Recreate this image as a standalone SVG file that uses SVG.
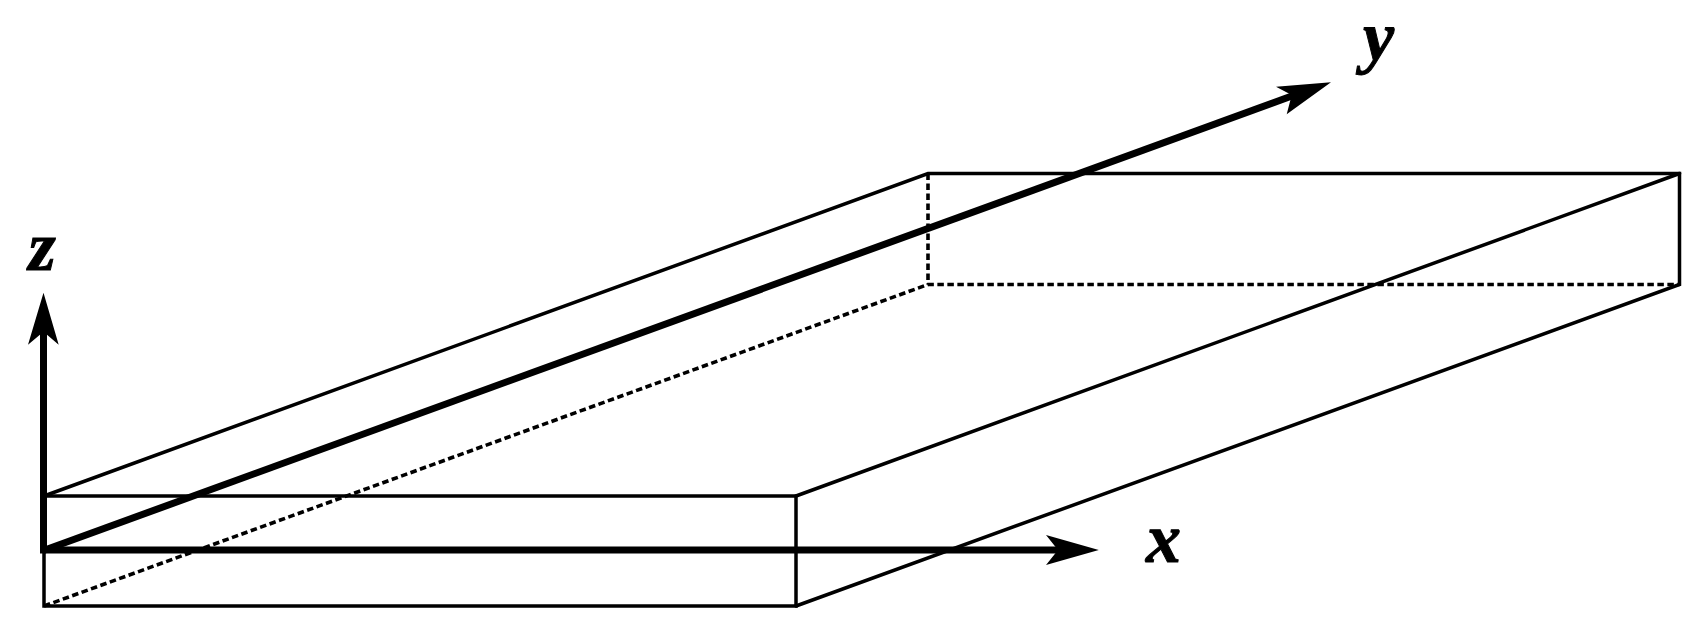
<svg xmlns="http://www.w3.org/2000/svg" width="1707" height="630" viewBox="0 0 1707 630">
<style>
.edge{fill:none;stroke:#000;stroke-width:3.5;stroke-linecap:round}
.hidden{fill:none;stroke:#000;stroke-width:3.6;stroke-dasharray:6.5 3.5}
.axis{fill:none;stroke:#000;stroke-width:7}
.head{fill:#000;stroke:none}
.label{font-family:"Liberation Serif","Times New Roman",serif;font-weight:bold;font-style:italic;font-size:70px;fill:#000;stroke:#000;stroke-width:1}
</style>
<rect width="1707" height="630" fill="#fff"/>
<g id="connectors">
<path class="edge" d="M44 496H796V606H44Z"/>
<path class="edge" d="M44 496L928 173.5H1679.5V284.5L796 606"/>
<path class="edge" d="M796 496L1679.5 173.5"/>
<path class="hidden" d="M44 606L928 284.5H1679.5"/>
<path class="hidden" d="M928 173.5V284.5"/>
<path class="axis" d="M43.5 553V320"/>
<path class="axis" d="M40 550H1070"/>
<path class="axis" d="M43.5 550.5L1300 93"/>
<polygon class="head" points="43.5,292.7 58.7,344.7 43.5,331.7 28,344.7"/>
<polygon class="head" points="1098.8,550 1046,565 1058,550 1046,535"/>
<polygon class="head" points="1331,82.3 1286.7,114.3 1291.7,95 1276,86.7"/>
</g>
<g id="label-z"><text class="label" x="28.5" y="270">z</text></g>
<g id="label-x"><text class="label" x="1146" y="562">x</text></g>
<g id="label-y"><text class="label" x="1363" y="60">y</text></g>
</svg>
